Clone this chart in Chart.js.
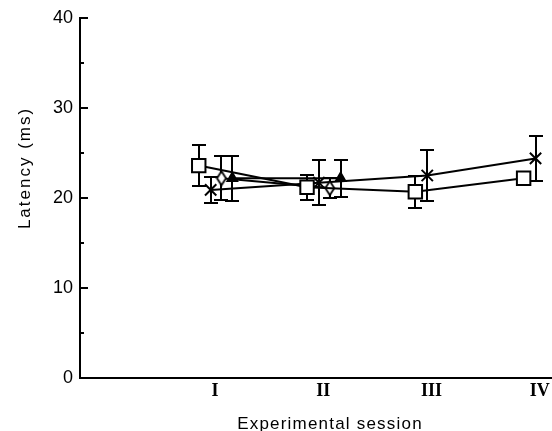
<!DOCTYPE html>
<html>
<head>
<meta charset="utf-8">
<script src="https://cdn.jsdelivr.net/npm/chart.js@4.4.1/dist/chart.umd.min.js"></script>
<style>
  html, body { margin: 0; padding: 0; background: #fff; }
  #wrap { width: 552px; height: 431px; }
</style>
</head>
<body>
<div id="wrap"><canvas id="latencyChart" width="552" height="431"></canvas></div>
<script>
// session labels and y ticks
const sessions = ['I', 'II', 'III', 'IV'];
const yTicks = [0, 10, 20, 30, 40];
const yMinorTicks = [5, 15, 25, 35];
const xTitle = 'Experimental session';
const yTitle = 'Latency (ms)';

// means and error bar half-lengths (ms)
const squareMeans = [23.6, 21.2, 20.7, 22.2];
const squareErrors = [2.3, 1.4, 1.8, 0.6];
const crossMeans = [20.9, 21.7, 22.5, 24.4];
const crossErrors = [1.45, 2.5, 2.85, 2.5];
const diamondMeans = [22.2, 21.1];
const diamondErrors = [2.45, 1.1];
const triangleMeans = [22.2, 22.2];
const triangleErrors = [2.5, 2.05];

// markers are nudged sideways within each session so they don't overlap
const toPoints = (means, shift) => means.map((m, i) => ({ x: i + 1 + shift, y: m }));

// narrow open diamond
const diamondImg = document.createElement('canvas');
diamondImg.width = 12;
diamondImg.height = 17;
(() => {
  const c = diamondImg.getContext('2d');
  c.fillStyle = '#fff';
  c.strokeStyle = '#000';
  c.lineWidth = 1.8;
  c.beginPath();
  c.moveTo(6, 1.5);
  c.lineTo(10.5, 8.5);
  c.lineTo(6, 15.5);
  c.lineTo(1.5, 8.5);
  c.closePath();
  c.fill();
  c.stroke();
})();

const errorBars = {
  id: 'errorBars',
  beforeDatasetsDraw(chart) {
    const { ctx, scales: { x, y } } = chart;
    ctx.save();
    ctx.strokeStyle = '#000';
    ctx.lineWidth = 2;
    chart.data.datasets.forEach(ds => {
      ds.data.forEach((pt, i) => {
        const err = ds.errors[i];
        const px = Math.round(x.getPixelForValue(pt.x));
        const top = Math.round(y.getPixelForValue(pt.y + err));
        const bot = Math.round(y.getPixelForValue(pt.y - err));
        ctx.beginPath();
        ctx.moveTo(px, top);
        ctx.lineTo(px, bot);
        ctx.moveTo(px - 7, top);
        ctx.lineTo(px + 7, top);
        ctx.moveTo(px - 7, bot);
        ctx.lineTo(px + 7, bot);
        ctx.stroke();
      });
    });
    ctx.restore();
  }
};

// tick marks point into the plot on the y axis
const innerTicks = {
  id: 'innerTicks',
  afterDraw(chart) {
    const { ctx, chartArea, scales: { y } } = chart;
    ctx.save();
    ctx.strokeStyle = '#000';
    ctx.lineWidth = 2;
    ctx.beginPath();
    yTicks.forEach(v => {
      const py = Math.round(y.getPixelForValue(v));
      ctx.moveTo(chartArea.left, py);
      ctx.lineTo(chartArea.left + 8, py);
    });
    yMinorTicks.forEach(v => {
      const py = Math.round(y.getPixelForValue(v));
      ctx.moveTo(chartArea.left, py);
      ctx.lineTo(chartArea.left + 4, py);
    });
    ctx.stroke();
    ctx.restore();
  }
};

// axis titles sit off-centre in the original, so they are drawn here
const axisTitles = {
  id: 'axisTitles',
  afterDraw(chart) {
    const ctx = chart.ctx;
    ctx.save();
    ctx.fillStyle = '#000';
    ctx.font = '17px "Liberation Sans", Arial, sans-serif';
    ctx.textAlign = 'center';
    ctx.letterSpacing = '1.2px';
    ctx.textBaseline = 'alphabetic';
    ctx.fillText(xTitle, 330, 429);
    ctx.translate(25, 168);
    ctx.rotate(-Math.PI / 2);
    ctx.letterSpacing = '2px';
    ctx.textBaseline = 'middle';
    ctx.fillText(yTitle, 0, 0);
    ctx.restore();
  }
};

const common = {
  borderColor: '#000',
  borderWidth: 2,
  pointBorderColor: '#000',
  pointBorderWidth: 2,
  fill: false,
  tension: 0,
};

new Chart(document.getElementById('latencyChart'), {
  type: 'line',
  data: {
    datasets: [
      {
        ...common,
        label: 'square',
        data: toPoints(squareMeans, -0.15),
        errors: squareErrors,
        pointStyle: 'rect',
        pointRadius: 9.5,
        pointBackgroundColor: '#fff',
      },
      {
        ...common,
        label: 'diamond',
        data: toPoints(diamondMeans, 0.06),
        errors: diamondErrors,
        pointStyle: diamondImg,
      },
      {
        ...common,
        label: 'triangle',
        data: toPoints(triangleMeans, 0.16),
        errors: triangleErrors,
        pointStyle: 'triangle',
        pointRadius: 5.5,
        pointBackgroundColor: '#000',
      },
      {
        ...common,
        label: 'cross',
        data: toPoints(crossMeans, -0.04),
        errors: crossErrors,
        pointStyle: 'crossRot',
        pointRadius: 8,
        pointBackgroundColor: '#000',
      },
    ],
  },
  options: {
    responsive: false,
    animation: false,
    devicePixelRatio: 1,
    layout: { autoPadding: false, padding: { top: 18, right: 0, bottom: 0, left: 0 } },
    plugins: {
      legend: { display: false },
      tooltip: { enabled: false },
    },
    scales: {
      x: {
        type: 'linear',
        min: -0.2465,
        max: 4.112,
        afterFit: (scale) => {
          scale.height = 53;
          scale.paddingLeft = 0;
          scale.paddingRight = 0;
        },
        afterBuildTicks: (scale) => { scale.ticks = sessions.map((s, i) => ({ value: i + 1 })); },
        grid: { display: false, drawTicks: false },
        border: { display: true, color: '#000', width: 2 },
        ticks: {
          autoSkip: false,
          maxRotation: 0,
          padding: 3,
          color: '#000',
          font: { family: '"Liberation Serif", "Times New Roman", serif', size: 18, weight: 'bold' },
          callback: (value) => sessions[value - 1],
        },
      },
      y: {
        type: 'linear',
        min: 0,
        max: 40,
        afterFit: (scale) => { scale.width = 80; },
        afterBuildTicks: (scale) => { scale.ticks = yTicks.map(v => ({ value: v })); },
        grid: { display: false, drawTicks: false },
        border: { display: true, color: '#000', width: 2 },
        ticks: {
          padding: 7,
          color: '#000',
          font: { family: '"Liberation Sans", Arial, sans-serif', size: 18 },
        },
      },
    },
  },
  plugins: [errorBars, innerTicks, axisTitles],
});
</script>
</body>
</html>
